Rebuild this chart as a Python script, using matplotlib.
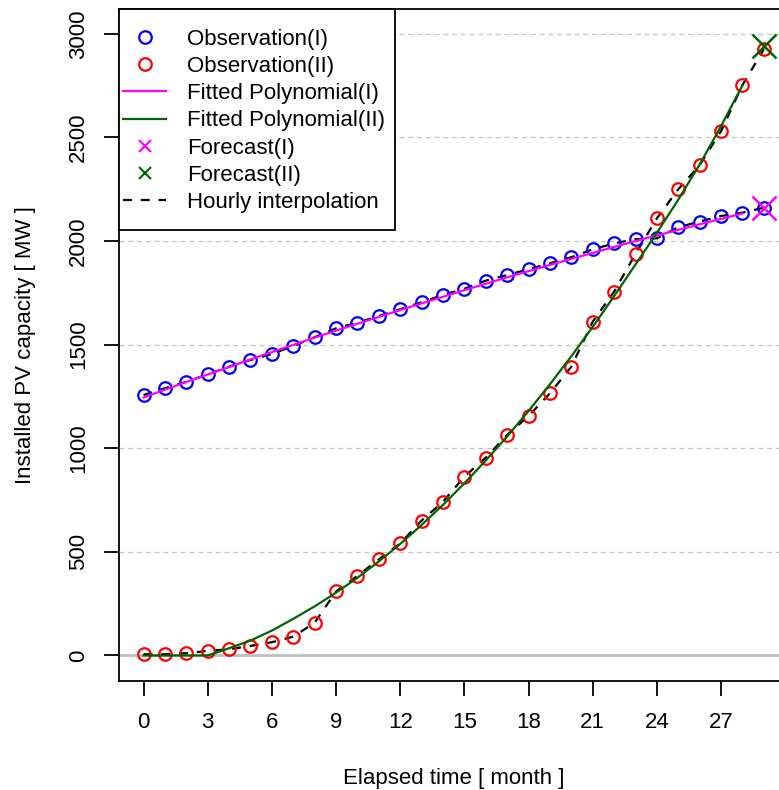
import numpy as np
import matplotlib
matplotlib.use('Agg')
import matplotlib.pyplot as plt
from matplotlib.lines import Line2D
from matplotlib.patches import Rectangle

plt.rcParams['font.family'] = ['Liberation Sans', 'DejaVu Sans']

meses = list(range(0, 30))
obs_1 = [1257, 1290, 1321, 1357, 1394, 1426, 1455, 1494, 1536, 1579,
         1606, 1638, 1671, 1705, 1740, 1770, 1809, 1836, 1864, 1893,
         1922, 1960, 1989, 2009, 2013, 2067, 2094, 2121, 2137, 2161]
obs_2 = [6, 6, 11, 22, 30, 46, 64, 91, 158, 309,
         384, 464, 541, 651, 742, 863, 955, 1064, 1156, 1265,
         1394, 1611, 1756, 1938, 2110, 2250, 2367, 2531, 2753, 2926]

# curvas ajustadas (meses 0 a 28)
meses_fit = list(range(0, 29))
fit_1 = [1245, 1283, 1320, 1356, 1392, 1429, 1464, 1499, 1534, 1568,
         1601, 1634, 1667, 1699, 1731, 1763, 1794, 1825, 1855, 1885,
         1914, 1943, 1972, 2000, 2027, 2054, 2081, 2107, 2133]
fit_2 = [0, 0, 0, 0, 35, 72, 120, 177, 237, 303,
         375, 454, 538, 630, 727, 831, 941, 1057, 1180, 1309,
         1444, 1586, 1734, 1887, 2040, 2200, 2370, 2555, 2752]

# previsao para o mes 29
mes_prev = [29]
prev_1 = [2158]
prev_2 = [2942]

x_ticks = [0, 3, 6, 9, 12, 15, 18, 21, 24, 27]
y_ticks = [0, 500, 1000, 1500, 2000, 2500, 3000]

fig = plt.figure(figsize=(7.79, 7.90), dpi=100)
ax = fig.add_axes([0.1524, 0.1384, 0.8600, 0.8502])

# grade horizontal tracejada e linha do zero
for yv in y_ticks[1:]:
    ax.axhline(yv, color='#C4C4C4', lw=0.9, linestyle=(0, (4, 3)), zorder=1)
ax.axhline(0, color='#BEBEBE', lw=2.0, zorder=1)

# interpolacao horaria
ax.plot(meses, obs_1, color='black', lw=1.6, linestyle=(0, (4, 4)), zorder=2)
ax.plot(meses, obs_2, color='black', lw=1.6, linestyle=(0, (4, 4)), zorder=2)

# observacoes
ax.plot(meses, obs_1, 'o', mfc='none', mec='#0000FF', ms=9, mew=1.6, zorder=3)
ax.plot(meses, obs_2, 'o', mfc='none', mec='#FF0000', ms=9, mew=1.6, zorder=3)

# polinomios ajustados
ax.plot(meses_fit, fit_1, color='#FF00FF', lw=1.6, zorder=4)
ax.plot(meses_fit, fit_2, color='#006400', lw=1.6, zorder=4)

# previsao
ax.plot(mes_prev, prev_1, 'x', color='#FF00FF', ms=17, mew=1.8, zorder=4)
ax.plot(mes_prev, prev_2, 'x', color='#006400', ms=17, mew=1.8, zorder=4)

ax.set_xlim(-1.16, 30.16)
ax.set_ylim(-121.6, 3120)
ax.set_xticks(x_ticks)
ax.set_yticks(y_ticks)
ax.tick_params(axis='both', length=10.5, width=1.3, labelsize=16, direction='out')
ax.tick_params(axis='x', pad=12)
ax.tick_params(axis='y', pad=11)
plt.setp(ax.get_yticklabels(), rotation=90, va='center')

for lado in ['left', 'bottom', 'top']:
    ax.spines[lado].set_linewidth(1.3)
ax.spines['right'].set_visible(False)

ax.set_xlabel('Elapsed time [ month ]', fontsize=16, labelpad=25)
ax.set_ylabel('Installed PV capacity [ MW ]', fontsize=16, labelpad=23)

# legenda com moldura manual
caixa = Rectangle((0, 0.671), 0.412, 0.329, transform=ax.transAxes,
                  facecolor='white', edgecolor='black', lw=1.3,
                  zorder=5, clip_on=False)
ax.add_patch(caixa)

handles = [
    Line2D([], [], marker='o', ls='none', mfc='none', mec='#0000FF', ms=9, mew=1.6),
    Line2D([], [], marker='o', ls='none', mfc='none', mec='#FF0000', ms=9, mew=1.6),
    Line2D([], [], color='#FF00FF', lw=1.6),
    Line2D([], [], color='#006400', lw=1.6),
    Line2D([], [], marker='x', ls='none', color='#FF00FF', ms=8.5, mew=1.5),
    Line2D([], [], marker='x', ls='none', color='#006400', ms=8.5, mew=1.5),
    Line2D([], [], color='black', lw=1.6, linestyle=(0, (4, 4))),
]
labels = ['Observation(I)', 'Observation(II)', 'Fitted Polynomial(I)',
          'Fitted Polynomial(II)', 'Forecast(I)', 'Forecast(II)',
          'Hourly interpolation']
leg = ax.legend(handles, labels, loc='upper left',
                bbox_to_anchor=(0.0064, 0.9706), borderpad=0, borderaxespad=0,
                frameon=False, fontsize=16, handlelength=1.94,
                handletextpad=0.95, labelspacing=0.28)
leg.set_zorder(6)

fig.savefig('out.png', dpi=100)
